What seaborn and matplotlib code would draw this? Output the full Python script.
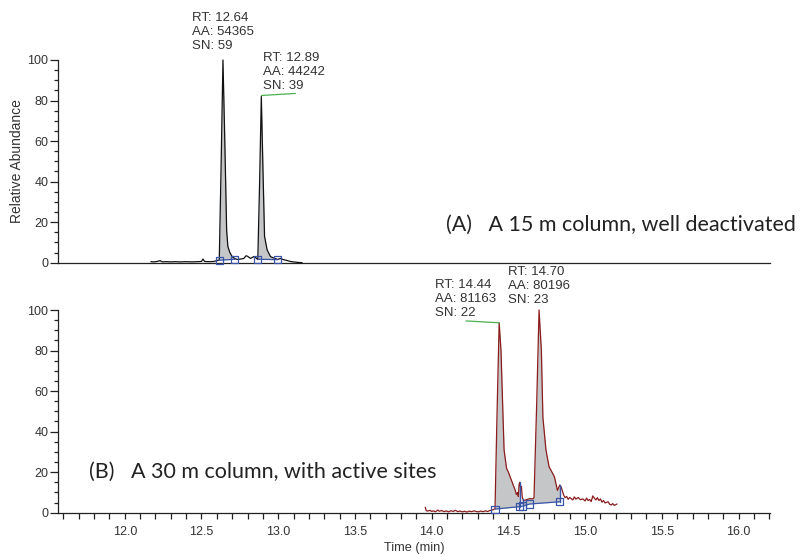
import numpy as np
import pandas as pd
import matplotlib
matplotlib.use("Agg")
import matplotlib.pyplot as plt
import seaborn as sns
from matplotlib.ticker import MultipleLocator, FixedLocator

# ---------------- data ----------------
top_time = [12.17, 12.19, 12.21, 12.23, 12.245, 12.27, 12.30, 12.33, 12.36, 12.40,
            12.44, 12.47, 12.50, 12.51, 12.52, 12.55, 12.58, 12.60, 12.616, 12.628,
            12.64, 12.652, 12.664, 12.672, 12.685, 12.70, 12.718, 12.733, 12.755, 12.776,
            12.79, 12.80, 12.82, 12.84, 12.855, 12.867, 12.879, 12.89, 12.901, 12.911,
            12.928, 12.95, 12.971, 12.997, 13.015, 13.03, 13.047, 13.08, 13.12, 13.156]
top_abund = [0.5, 0.4, 0.6, 1.0, 0.4, 0.5, 0.4, 0.5, 0.4, 0.5,
             0.4, 0.5, 0.6, 1.8, 0.6, 0.5, 0.6, 1.0, 1.4, 48,
             100, 60, 16, 8, 5, 3, 2.0, 1.6, 1.8, 2.1,
             3.4, 3.2, 2.1, 3.0, 2.4, 1.5, 40, 82, 45, 13,
             6.3, 3.0, 2.3, 1.6, 2.1, 1.6, 1.3, 0.6, 0.2, 0.0]

bot_time = [13.958, 13.965, 13.975, 13.99, 14.00, 14.01, 14.025, 14.04, 14.05, 14.065,
            14.08, 14.095, 14.11, 14.125, 14.14, 14.155, 14.17, 14.185, 14.20, 14.215,
            14.23, 14.245, 14.26, 14.275, 14.29, 14.305, 14.32, 14.335, 14.35, 14.365,
            14.38, 14.395, 14.405, 14.413, 14.425, 14.44, 14.452, 14.462, 14.472, 14.488,
            14.50, 14.52, 14.535, 14.545, 14.552, 14.56, 14.565, 14.57, 14.575, 14.58,
            14.585, 14.59, 14.598, 14.61, 14.625, 14.64, 14.655, 14.667, 14.685, 14.70,
            14.715, 14.725, 14.745, 14.765, 14.80, 14.82, 14.835, 14.845, 14.86, 14.87,
            14.88, 14.89, 14.90, 14.92, 14.93, 14.94, 14.955, 14.97, 14.985, 15.00,
            15.01, 15.02, 15.03, 15.04, 15.05, 15.06, 15.07, 15.08, 15.09, 15.10,
            15.11, 15.12, 15.13, 15.15, 15.16, 15.17, 15.18, 15.19, 15.208]
bot_abund = [2.7, 1.0, 0.8, 1.2, 0.6, 0.9, 0.5, 1.3, 0.7, 1.1,
             0.5, 0.9, 0.4, 1.0, 0.6, 1.2, 0.5, 0.8, 0.4, 0.7,
             0.3, 0.8, 0.5, 0.9, 0.6, 0.4, 0.8, 0.5, 0.9, 0.6,
             1.1, 1.3, 1.6, 2.0, 45, 93.7, 80, 55, 31, 22,
             20, 16, 13, 11, 9, 10, 8, 14, 15, 12,
             13, 8, 6, 6.2, 6.6, 7.0, 6.8, 7.2, 55, 100,
             80, 47, 31, 22.7, 17.8, 11, 13.7, 12.5, 8.7, 7.4,
             8.0, 6.6, 7.5, 6.3, 7.8, 6.7, 7.5, 6.4, 6.8, 5.8,
             7.2, 6.0, 6.5, 5.5, 8.3, 7.2, 6.3, 7.4, 6.0, 6.8,
             5.2, 6.0, 4.8, 5.4, 4.2, 3.8, 4.5, 3.6, 4.3]

top_peak_rt = ["12.64", "12.89"]
top_peak_aa = ["54365", "44242"]
top_peak_sn = ["59", "39"]
bot_peak_rt = ["14.44", "14.70"]
bot_peak_aa = ["81163", "80196"]
bot_peak_sn = ["22", "23"]

top_base_time = [12.616, 12.718, 12.867, 12.997]
top_base_abund = [1.2, 1.7, 1.7, 1.5]
bot_base_time = [14.413, 14.575, 14.595, 14.64, 14.836]
bot_base_abund = [1.8, 3.0, 3.3, 4.3, 5.4]

x_major_ticks = [12.0, 12.5, 13.0, 13.5, 14.0, 14.5, 15.0, 15.5, 16.0]
x_tick_labels = ["12.0", "12.5", "13.0", "13.5", "14.0", "14.5", "15.0", "15.5", "16.0"]
y_major_ticks = [0, 20, 40, 60, 80, 100]
y_tick_labels = ["0", "20", "40", "60", "80", "100"]

panel_labels = ["(A)   A 15 m column, well deactivated",
                "(B)   A 30 m column, with active sites"]
x_label = "Time (min)"
y_label = "Relative Abundance"

# ---------------- style ----------------
sns.set_style("ticks")
plt.rcParams['font.family'] = ['Liberation Sans', 'DejaVu Sans']

TEXT = "#333333"
AXC = "#222222"
TOP_COL = "#111111"
BOT_COL = "#8a1c1c"
FILL = "#c4c6c8"
BLUE = "#3a55a8"
GREEN = "#4caf50"

fig = plt.figure(figsize=(8.02, 5.55), dpi=100)
ax_top = fig.add_axes([58/802, 1-262.7/555, 712/802, 202.7/555])
ax_bot = fig.add_axes([58/802, 1-512.7/555, 712/802, 202.7/555])

XLIM = (11.565, 16.205)

top_df = pd.DataFrame({"time": top_time, "abund": top_abund})
bot_df = pd.DataFrame({"time": bot_time, "abund": bot_abund})


def baseline_fill(ax, t, y, bt, by, i0, i1):
    t = np.asarray(t); y = np.asarray(y)
    lo, hi = bt[i0], bt[i1]
    m = (t >= lo) & (t <= hi)
    ts = np.concatenate([[lo], t[m], [hi]])
    ys = np.concatenate([[np.interp(lo, t, y)], y[m], [np.interp(hi, t, y)]])
    bs = np.interp(ts, bt[i0:i1+1], by[i0:i1+1])
    ax.fill_between(ts, bs, ys, color=FILL, lw=0, zorder=1)


for ax, df, col in [(ax_top, top_df, TOP_COL), (ax_bot, bot_df, BOT_COL)]:
    sns.lineplot(data=df, x="time", y="abund", ax=ax, color=col, lw=0.9,
                 estimator=None, sort=False, zorder=3)
    for l in ax.lines:
        l.set_clip_on(False)
    ax.set_xlim(*XLIM)
    ax.set_ylim(0, 100)
    ax.set_xlabel("")
    ax.set_ylabel("")
    for s in ["top", "right"]:
        ax.spines[s].set_visible(False)
    for s in ["left", "bottom"]:
        ax.spines[s].set_color(AXC)
        ax.spines[s].set_linewidth(0.9)
    ax.yaxis.set_major_locator(FixedLocator(y_major_ticks))
    ax.set_yticklabels(y_tick_labels)
    ax.yaxis.set_minor_locator(MultipleLocator(5))
    ax.tick_params(axis="y", which="major", length=6, width=0.9, color=AXC,
                   labelsize=9, labelcolor=TEXT, pad=1)
    ax.tick_params(axis="y", which="minor", length=3.2, width=0.9, color=AXC)
    ax.patch.set_alpha(0)

# fills and baselines
baseline_fill(ax_top, top_time, top_abund, top_base_time, top_base_abund, 0, 1)
baseline_fill(ax_top, top_time, top_abund, top_base_time, top_base_abund, 2, 3)
baseline_fill(ax_bot, bot_time, bot_abund, bot_base_time, bot_base_abund, 0, 1)
baseline_fill(ax_bot, bot_time, bot_abund, bot_base_time, bot_base_abund, 2, 4)

for (i0, i1) in [(0, 1), (2, 3)]:
    ax_top.plot(top_base_time[i0:i1+1], top_base_abund[i0:i1+1], color=BLUE, lw=0.9, zorder=4)
ax_bot.plot(bot_base_time, bot_base_abund, color=BLUE, lw=0.9, zorder=4)
for i in [1, 2, 4]:
    tt = bot_base_time[i]
    ax_bot.plot([tt, tt], [bot_base_abund[i], np.interp(tt, bot_time, bot_abund)],
                color=BLUE, lw=1.0, zorder=4)

sns.scatterplot(x=top_base_time, y=top_base_abund, ax=ax_top, marker="s", s=26,
                facecolor="none", edgecolor=BLUE, linewidth=0.9, zorder=5, clip_on=False)
sns.scatterplot(x=bot_base_time, y=bot_base_abund, ax=ax_bot, marker="s", s=26,
                facecolor="none", edgecolor=BLUE, linewidth=0.9, zorder=5, clip_on=False)

# x axis ticks
ax_top.tick_params(axis="x", which="both", bottom=False, labelbottom=False)
ax_bot.xaxis.set_major_locator(FixedLocator(x_major_ticks))
ax_bot.set_xticklabels(x_tick_labels)
ax_bot.xaxis.set_minor_locator(FixedLocator(np.round(np.arange(11.6, 16.21, 0.1), 2)))
ax_bot.tick_params(axis="x", which="both", length=4.5, width=0.9, color=AXC,
                   labelsize=9, labelcolor=TEXT, pad=5)

# annotations
def ann(ax, x, y, rt, aa, sn):
    ax.text(x, y, f"RT: {rt}\nAA: {aa}\nSN: {sn}", ha="left", va="center",
            fontsize=9.5, color=TEXT, linespacing=1.25, clip_on=False)

ann(ax_top, 12.436, 113.8, top_peak_rt[0], top_peak_aa[0], top_peak_sn[0])
ann(ax_top, 12.898, 94.1, top_peak_rt[1], top_peak_aa[1], top_peak_sn[1])
ann(ax_bot, 14.023, 105.4, bot_peak_rt[0], bot_peak_aa[0], bot_peak_sn[0])
ann(ax_bot, 14.498, 111.8, bot_peak_rt[1], bot_peak_aa[1], bot_peak_sn[1])

ax_top.plot([12.891, 13.112], [82.5, 83.5], color=GREEN, lw=0.9, zorder=4)
ax_bot.plot([14.224, 14.44], [94.6, 93.7], color=GREEN, lw=0.9, zorder=4)

# panel labels
ax_top.text(14.093, 18.5, panel_labels[0], ha="left", va="center", fontsize=15.5,
            family=["Lato", "DejaVu Sans"], color="#222222")
ax_bot.text(11.766, 20.0, panel_labels[1], ha="left", va="center", fontsize=15.5,
            family=["Lato", "DejaVu Sans"], color="#222222")

ax_top.set_ylabel(y_label, fontsize=10, color=TEXT)
ax_top.yaxis.set_label_coords(-0.0478, 0.5)
ax_bot.set_xlabel(x_label, fontsize=9.2, color=TEXT, labelpad=3)

fig.savefig("out.png", dpi=100)
